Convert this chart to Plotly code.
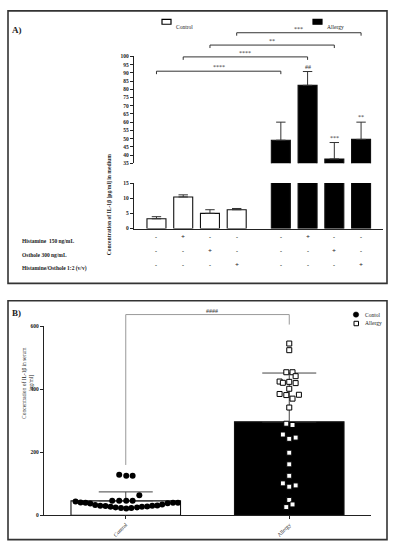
import plotly.graph_objects as go

# ---------------- Panel A data (IL-1beta in medium) ----------------
groups_a = ["Control"] * 4 + ["Allergy"] * 4
medium_mean = [3.2, 10.4, 5.0, 6.2, 49.0, 82.4, 37.6, 49.5]
medium_sd = [0.7, 0.7, 1.2, 0.4, 11.0, 8.4, 10.0, 10.5]
histamine = ["-", "+", "-", "-", "-", "+", "-", "-"]
osthole = ["-", "-", "+", "-", "-", "-", "+", "-"]
hist_osth = ["-", "-", "-", "+", "-", "-", "-", "+"]
row_labels = ["Histamine  150 ng/mL", "Osthole 300 ng/mL", "Histamine/Osthole 1:2 (v/v)"]
sig_above = ["", "", "", "", "", "##", "***", "**"]
comparisons = [(0, 4, "****"), (1, 5, "****"), (2, 6, "**"), (3, 7, "***")]
bracket_levels = [91.0, 99.7, 106.9, 114.4]
upper_ticks = list(range(35, 101, 5))
lower_ticks = [0, 5, 10, 15]

# ---------------- Panel B data (IL-1beta in serum) ----------------
serum_groups = ["Control", "Allergy"]
serum_mean = [46, 297]
serum_sd = [28.5, 155]
control_vals = [44, 40.8, 39.8, 37.7, 32.5, 30.4, 29.3, 27.2, 25.1, 23, 22, 23, 25.1,
                27.2, 28.3, 30.4, 31.4, 34.6, 38.8, 39.8, 39.8,
                46, 46, 46, 46, 64, 128.6, 125.5, 125.5]
control_jitter = [-0.307, -0.276, -0.246, -0.217, -0.187, -0.156, -0.124, -0.093, -0.062,
                  -0.029, 0.003, 0.034, 0.069, 0.099, 0.131, 0.162, 0.193, 0.223, 0.256,
                  0.289, 0.319, -0.083, -0.040, 0.003, 0.042, 0.083, -0.040, 0.003, 0.042]
allergy_vals = [545.7, 524.6, 454.5, 454.5, 442, 425, 421, 424, 420, 402, 385.5, 382,
                370.7, 383, 342.4, 291, 287, 256.7, 243, 247, 199, 162, 125.7, 101.6,
                91, 95, 49, 34.6, 26.2]
allergy_jitter = [0, 0, -0.018, 0.020, 0.039, -0.059, -0.039, 0, 0.039, 0, -0.059, -0.018,
                  0.020, 0.059, 0, -0.018, 0.020, -0.039, 0, 0.039, 0, 0, 0, -0.039, 0,
                  0.039, 0, 0.020, -0.018]

# ---------------- layout helpers ----------------
W, H = 393, 550
FONT = "Liberation Serif"
INK = "#222"


def px_x(p):
    return p / W


def px_y(p):
    return 1 - p / H


GAP = 0.65
xpos = [i + (GAP if g == "Allergy" else 0) for i, g in enumerate(groups_a)]
ctrl_idx = [i for i, g in enumerate(groups_a) if g == "Control"]
allg_idx = [i for i, g in enumerate(groups_a) if g == "Allergy"]

fig = go.Figure()

err_style = dict(type="data", symmetric=False, width=4.7, thickness=1, color="#333")

# Control bars (lower axis segment)
fig.add_trace(go.Bar(
    x=[xpos[i] for i in ctrl_idx], y=[medium_mean[i] for i in ctrl_idx],
    width=0.71, marker=dict(color="white", line=dict(color="#111", width=1.1)),
    error_y=dict(array=[medium_sd[i] for i in ctrl_idx],
                 arrayminus=[0] * len(ctrl_idx), **err_style),
    xaxis="x", yaxis="y2", showlegend=False))
# Allergy bars (lower segment, clipped at 15)
fig.add_trace(go.Bar(
    x=[xpos[i] for i in allg_idx], y=[medium_mean[i] for i in allg_idx],
    width=0.71, marker=dict(color="black", line=dict(color="#111", width=1.1)),
    xaxis="x", yaxis="y2", showlegend=False))
# Allergy bars (upper segment)
fig.add_trace(go.Bar(
    x=[xpos[i] for i in allg_idx], y=[medium_mean[i] for i in allg_idx],
    width=0.71, marker=dict(color="black", line=dict(color="#111", width=1.1)),
    error_y=dict(array=[medium_sd[i] for i in allg_idx],
                 arrayminus=[0] * len(allg_idx), **err_style),
    xaxis="x", yaxis="y", showlegend=False))

annotations = []

# significance brackets panel A
LEG = 1.8
for (a, b, lab), lvl in zip(comparisons, bracket_levels):
    fig.add_trace(go.Scatter(
        x=[xpos[a], xpos[a], xpos[b], xpos[b]], y=[lvl - LEG, lvl, lvl, lvl - LEG],
        mode="lines", line=dict(color="#333", width=1), xaxis="x", yaxis="y4",
        showlegend=False, hoverinfo="skip"))
    annotations.append(dict(x=(xpos[a] + xpos[b]) / 2, y=lvl, xref="x", yref="y4",
                            text=lab, showarrow=False, yanchor="bottom", yshift=-1,
                            font=dict(family=FONT, size=6, color="#333")))

# stars above bars
for i, s in enumerate(sig_above):
    if s:
        annotations.append(dict(x=xpos[i], y=medium_mean[i] + medium_sd[i], xref="x",
                                yref="y", text=s, showarrow=False, yanchor="bottom",
                                yshift=0, font=dict(family=FONT, size=6, color="#333")))

# treatment table
for row, (signs, lab, ys) in enumerate(zip([histamine, osthole, hist_osth], row_labels,
                                            [237, 251, 265])):
    annotations.append(dict(x=px_x(20), y=px_y(ys + 3.5), xref="paper", yref="paper",
                            text="<b>" + lab + "</b>", showarrow=False, xanchor="left",
                            font=dict(family=FONT, size=5.5, color=INK)))
    for i, s in enumerate(signs):
        annotations.append(dict(x=xpos[i], y=px_y(ys), xref="x", yref="paper",
                                text="<b>" + s + "</b>", showarrow=False,
                                font=dict(family=FONT, size=7 if s == "+" else 6,
                                          color=INK)))

# Panel B bars
fig.add_trace(go.Bar(
    x=[0, 1], y=serum_mean, width=0.67,
    marker=dict(color=["white", "black"], line=dict(color="#111", width=1.1)),
    error_y=dict(type="data", symmetric=False, array=serum_sd, arrayminus=[0, 0],
                 width=27, thickness=1, color="#444"),
    xaxis="x2", yaxis="y3", showlegend=False))
fig.add_trace(go.Scatter(
    x=[0 + j for j in control_jitter], y=control_vals, mode="markers",
    marker=dict(symbol="circle", size=6, color="black"),
    xaxis="x2", yaxis="y3", showlegend=False, cliponaxis=False))
fig.add_trace(go.Scatter(
    x=[1 + j for j in allergy_jitter], y=allergy_vals, mode="markers",
    marker=dict(symbol="square", size=5, color="white", line=dict(color="black", width=1)),
    xaxis="x2", yaxis="y3", showlegend=False, cliponaxis=False))

# Panel B bracket
fig.add_trace(go.Scatter(
    x=[0, 0, 1, 1], y=[160, 637.7, 637.7, 606], mode="lines",
    line=dict(color="#999", width=1), xaxis="x2", yaxis="y5",
    showlegend=False, hoverinfo="skip"))
annotations.append(dict(x=0.53, y=637.7, xref="x2", yref="y5", text="####",
                        showarrow=False, yanchor="bottom", yshift=-1,
                        font=dict(family=FONT, size=6, color="#333")))

# Titles / labels
annotations += [
    dict(x=px_x(10), y=px_y(20), xref="paper", yref="paper", text="<b>A)</b>",
         showarrow=False, xanchor="left", font=dict(family=FONT, size=9, color=INK)),
    dict(x=px_x(10), y=px_y(313), xref="paper", yref="paper", text="<b>B)</b>",
         showarrow=False, xanchor="left", font=dict(family=FONT, size=9, color=INK)),
    dict(x=px_x(104), y=px_y(150), xref="paper", yref="paper",
         text="<b>Concentration of IL-1β [pg/ml] in medium</b>", textangle=-90,
         showarrow=False, font=dict(family=FONT, size=5.6, color=INK)),
    dict(x=px_x(19), y=px_y(423), xref="paper", yref="paper",
         text="Concentration of IL-1β in serum<br>[pg/ml]", textangle=-90,
         showarrow=False, font=dict(family=FONT, size=5.5, color=INK)),
    # legend A
    dict(x=px_x(174), y=px_y(19), xref="paper", yref="paper", text="Control",
         showarrow=False, xanchor="left", font=dict(family=FONT, size=5.5, color=INK)),
    dict(x=px_x(325), y=px_y(19), xref="paper", yref="paper", text="Allergy",
         showarrow=False, xanchor="left", font=dict(family=FONT, size=5.5, color=INK)),
    # legend B
    dict(x=px_x(363), y=px_y(315), xref="paper", yref="paper", text="Contol",
         showarrow=False, xanchor="left", font=dict(family=FONT, size=5.5, color=INK)),
    dict(x=px_x(363), y=px_y(324), xref="paper", yref="paper", text="Allergy",
         showarrow=False, xanchor="left", font=dict(family=FONT, size=5.5, color=INK)),
]

shapes = [
    dict(type="rect", xref="paper", yref="paper", x0=px_x(8), x1=px_x(387),
         y0=px_y(8), y1=px_y(283.5), line=dict(color="#333", width=1.6)),
    dict(type="rect", xref="paper", yref="paper", x0=px_x(8), x1=px_x(387),
         y0=px_y(301), y1=px_y(542.5), line=dict(color="#333", width=1.6)),
    dict(type="rect", xref="paper", yref="paper", x0=px_x(162), x1=px_x(171),
         y0=px_y(16.5), y1=px_y(21.5), fillcolor="white", line=dict(color="black", width=1.2)),
    dict(type="rect", xref="paper", yref="paper", x0=px_x(313), x1=px_x(322),
         y0=px_y(16.5), y1=px_y(21.5), fillcolor="black", line=dict(color="black", width=1.2)),
    dict(type="circle", xref="paper", yref="paper", x0=px_x(353.3), x1=px_x(358.7),
         y0=px_y(312.3), y1=px_y(317.7), fillcolor="black", line=dict(color="black", width=0.5)),
    dict(type="rect", xref="paper", yref="paper", x0=px_x(354), x1=px_x(358.5),
         y0=px_y(321.8), y1=px_y(326.3), fillcolor="white", line=dict(color="black", width=1)),
]

axis_common = dict(showgrid=False, zeroline=False, showline=True, linecolor=INK,
                   linewidth=1.2, ticks="outside", ticklen=3, tickwidth=1, tickcolor=INK,
                   tickfont=dict(family=FONT, size=5.5, color=INK, weight="bold"))

fig.update_layout(
    width=W, height=H, margin=dict(l=0, r=0, t=0, b=0),
    paper_bgcolor="white", plot_bgcolor="rgba(0,0,0,0)",
    barmode="overlay", showlegend=False,
    xaxis=dict(domain=[px_x(134), px_x(383)], range=[-0.84, 8.47], anchor="y2",
               showgrid=False, zeroline=False, showline=True, linecolor=INK,
               linewidth=1.2, showticklabels=False, ticks=""),
    yaxis=dict(domain=[px_y(162), px_y(54)], range=[35, 100], anchor="x",
               tickvals=upper_ticks, **axis_common),
    yaxis2=dict(domain=[px_y(228), px_y(182)], range=[0, 15], anchor="x",
                tickvals=lower_ticks, **axis_common),
    yaxis4=dict(domain=[px_y(162), px_y(20)], range=[35, 35 + 142 / (108 / 65)],
                anchor="x", visible=False),
    xaxis2=dict(domain=[px_x(44), px_x(371)], range=[-0.5, 1.5], anchor="y3",
                showgrid=False, zeroline=False, showline=True, linecolor=INK,
                linewidth=1.2, tickvals=[0, 1], ticktext=serum_groups, tickangle=-45,
                ticks="outside", ticklen=3, tickcolor=INK,
                tickfont=dict(family=FONT, size=5.5, color=INK)),
    yaxis3=dict(domain=[px_y(518), px_y(327)], range=[0, 600], anchor="x2",
                tickvals=[0, 200, 400, 600], **axis_common),
    yaxis5=dict(domain=[px_y(518), px_y(300)], range=[0, 218 / (191 / 600)],
                anchor="x2", visible=False),
    annotations=annotations, shapes=shapes,
)

fig.write_html("out.html", config={"displayModeBar": False},
               post_script="document.body.style.margin='0px';")
